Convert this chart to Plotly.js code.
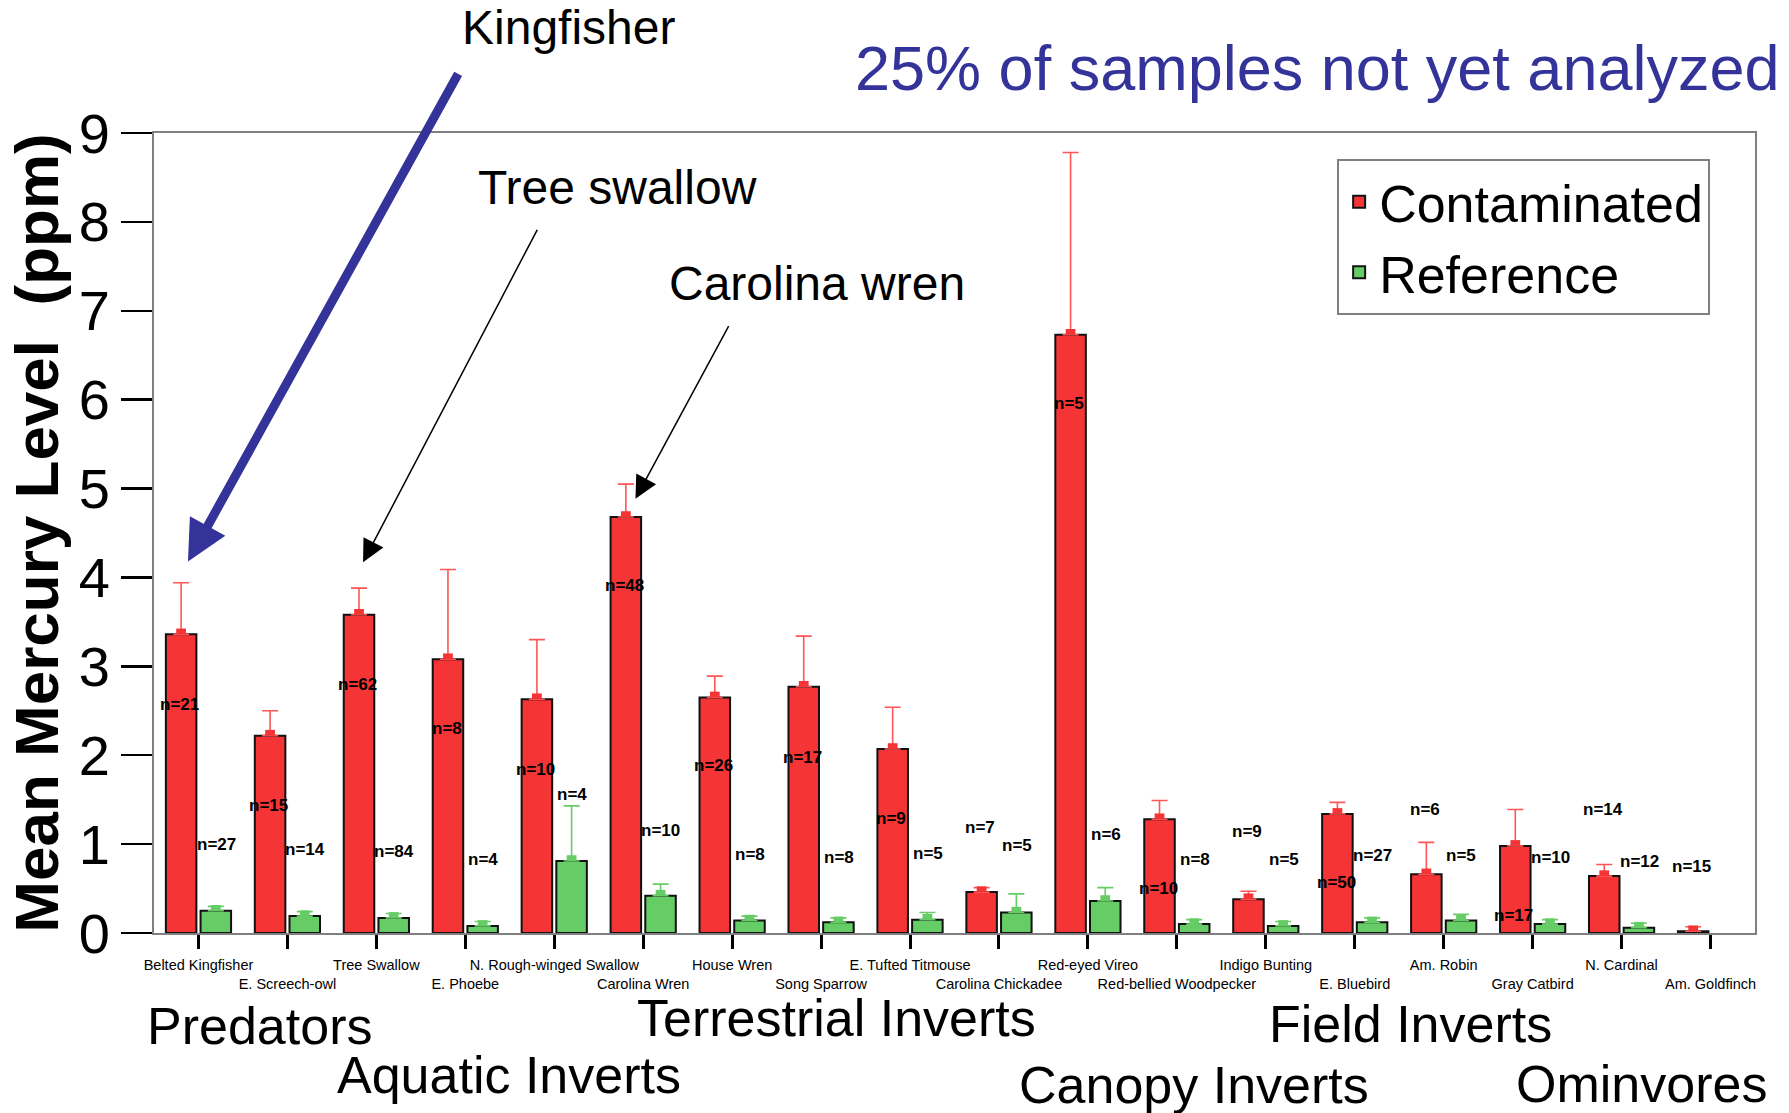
<!DOCTYPE html>
<html>
<head>
<meta charset="utf-8">
<script src="https://cdn.plot.ly/plotly-3.0.1.min.js"></script>
<style>html,body{margin:0;padding:0;background:#fff;}#chart{width:1789px;height:1113px;}</style>
</head>
<body>
<div id="chart"></div>
<script>
// ---- data ----
const categories = ["Belted Kingfisher","E. Screech-owl","Tree Swallow","E. Phoebe","N. Rough-winged Swallow","Carolina Wren","House Wren","Song Sparrow","E. Tufted Titmouse","Carolina Chickadee","Red-eyed Vireo","Red-bellied Woodpecker","Indigo Bunting","E. Bluebird","Am. Robin","Gray Catbird","N. Cardinal","Am. Goldfinch"];
const contamMean = [3.36, 2.22, 3.58, 3.08, 2.63, 4.68, 2.65, 2.77, 2.07, 0.46, 6.73, 1.28, 0.38, 1.34, 0.66, 0.98, 0.64, 0.02];
const contamErr  = [0.58, 0.28, 0.30, 1.01, 0.67, 0.37, 0.24, 0.57, 0.47, 0.05, 2.05, 0.21, 0.09, 0.13, 0.36, 0.41, 0.13, 0.05];
const refMean    = [0.25, 0.19, 0.17, 0.08, 0.81, 0.42, 0.14, 0.12, 0.15, 0.23, 0.36, 0.10, 0.08, 0.12, 0.14, 0.10, 0.06, null];
const refErr     = [0.05, 0.05, 0.05, 0.05, 0.62, 0.13, 0.05, 0.05, 0.08, 0.21, 0.15, 0.05, 0.05, 0.05, 0.07, 0.05, 0.05, null];
const nContam    = [21, 15, 62, 8, 10, 48, 26, 17, 9, 7, 5, 10, 9, 50, 6, 17, 14, 15];
const nRef       = [27, 14, 84, 4, 4, 10, 8, 8, 5, 5, 6, 8, 5, 27, 5, 10, 12, null];
// vertical placement of the n= labels (in ppm units, as in the original figure)
const nContamLabelY = [2.57, 1.43, 2.80, 2.30, 1.84, 3.91, 1.88, 1.98, 1.29, 1.19, 5.96, 0.50, 1.14, 0.57, 1.39, 0.20, 1.39, 0.75];
const nRefLabelY    = [1.00, 0.94, 0.92, 0.83, 1.56, 1.15, 0.88, 0.85, 0.90, 0.98, 1.11, 0.83, 0.83, 0.87, 0.87, 0.85, 0.80, null];
const yTicks = [0,1,2,3,4,5,6,7,8,9];
const groups = ["Predators","Aquatic Inverts","Terrestrial Inverts","Canopy Inverts","Field Inverts","Ominvores"];

const FONT = '"Liberation Sans", Arial, Helvetica, sans-serif';
const RED = '#F53535', GREEN = '#66CC66';
const NUB_H = 0.065;   // visual cap "nub" drawn at the top of each bar (style only)
const idx = categories.map((c,i)=>i);
const tickText = categories.map((c,i)=> i%2 ? '<br>'+c : c);

const traces = [
  {type:'bar', name:'Contaminated', x: idx, y: contamMean, offsetgroup:'c',
   marker:{color:RED, line:{color:'#111', width:2}},
   error_y:{type:'data', array: contamErr, arrayminus: contamErr.map(()=>0), symmetric:false,
            color:'#FF5555', thickness:1.6, width:8}},
  {type:'bar', name:'Reference', x: idx, y: refMean, offsetgroup:'r',
   marker:{color:GREEN, line:{color:'#111', width:2}},
   error_y:{type:'data', array: refErr, arrayminus: refErr.map(()=>0), symmetric:false,
            color:GREEN, thickness:1.6, width:8}},
  {type:'bar', x: idx, base: contamMean, y: contamMean.map(v=> v==null?null:NUB_H), offsetgroup:'c', width:0.11,
   marker:{color:RED, line:{width:0}}, showlegend:false, hoverinfo:'skip'},
  {type:'bar', x: idx, base: refMean, y: refMean.map(v=> v==null?null:NUB_H), offsetgroup:'r', width:0.11,
   marker:{color:GREEN, line:{width:0}}, showlegend:false, hoverinfo:'skip'}
];

const ann = [];
nContam.forEach((n,i)=>{ if(n!=null) ann.push({x:i-0.21, y:nContamLabelY[i], xref:'x', yref:'y', text:'n='+n, showarrow:false,
  xanchor:'center', yanchor:'middle', font:{family:FONT, size:17, color:'#000', weight:'bold'}}); });
nRef.forEach((n,i)=>{ if(n!=null) ann.push({x:i+0.2, y:nRefLabelY[i], xref:'x', yref:'y', text:'n='+n, showarrow:false,
  xanchor:'center', yanchor:'middle', font:{family:FONT, size:17, color:'#000', weight:'bold'}}); });

// headline
ann.push({xref:'paper', yref:'paper', x:1.017, y:1.081, xanchor:'right', yanchor:'middle', showarrow:false,
  text:'25% of samples not yet analyzed', font:{family:FONT, size:63, color:'#333399'}});
// pointer labels
const ptr = (t,x,y)=>({xref:'paper', yref:'paper', x:x, y:y, xanchor:'center', yanchor:'middle', showarrow:false, text:t, font:{family:FONT, size:48, color:'#000'}});
ann.push(ptr('Kingfisher', 0.2586, 1.1324));
ann.push(ptr('Tree swallow', 0.2892, 0.9321));
ann.push(ptr('Carolina wren', 0.4144, 0.8121));
// arrows
ann.push({xref:'x', yref:'y', x:-0.118, y:4.18, ax:271, ay:-489, text:'', showarrow:true, arrowhead:2, arrowsize:0.9, arrowwidth:9, arrowcolor:'#333399', standoff:0});
ann.push({xref:'x', yref:'y', x:1.85, y:4.17, ax:175, ay:-334, text:'', showarrow:true, arrowhead:2, arrowsize:3, arrowwidth:1.5, arrowcolor:'#000', standoff:0});
ann.push({xref:'x', yref:'y', x:4.913, y:4.886, ax:94, ay:-174, text:'', showarrow:true, arrowhead:2, arrowsize:3, arrowwidth:1.5, arrowcolor:'#000', standoff:0});
// group labels
const groupPos = [[0.0659,-0.1168],[0.222,-0.1779],[0.4266,-0.1067],[0.6496,-0.1900],[0.785,-0.1133],[0.9294,-0.1890]];
groups.forEach((g,i)=> ann.push({xref:'paper', yref:'paper', x:groupPos[i][0], y:groupPos[i][1], xanchor:'center', yanchor:'middle',
  showarrow:false, text:g, font:{family:FONT, size:52, color:'#000'}}));

const layout = {
  width:1789, height:1113,
  margin:{l:154, r:34, t:133, b:180, pad:0},
  paper_bgcolor:'#fff', plot_bgcolor:'#fff',
  font:{family:FONT, color:'#000'},
  barmode:'group', bargap:0.22, bargroupgap:0.12,
  showlegend:true,
  legend:{x:0.739, y:0.967, xanchor:'left', yanchor:'top', bgcolor:'#fff', bordercolor:'#808080', borderwidth:2,
          font:{family:FONT, size:52, color:'#000'}, itemwidth:30, tracegroupgap:0},
  xaxis:{range:[-0.5,17.5], tickvals: idx, ticktext: tickText, tickangle:0,
         ticks:'outside', ticklen:14, tickwidth:3, tickcolor:'#000', ticklabelstandoff:4,
         showline:true, linecolor:'#808080', linewidth:2, mirror:true,
         showgrid:false, zeroline:false, tickfont:{family:FONT, size:14.5, color:'#000'}},
  yaxis:{range:[0,9], tickvals: yTicks, ticks:'outside', ticklen:31, tickwidth:2.5, tickcolor:'#000',
         showline:true, linecolor:'#808080', linewidth:2, mirror:true,
         showgrid:false, zeroline:false, tickfont:{family:FONT, size:56, color:'#000'},
         title:{text:'<b>Mean Mercury Level  (ppm)</b>', font:{family:FONT, size:62, color:'#000'}, standoff:0}},
  annotations: ann
};

Plotly.newPlot('chart', traces, layout, {displayModeBar:false, staticPlot:true});
</script>
</body>
</html>
